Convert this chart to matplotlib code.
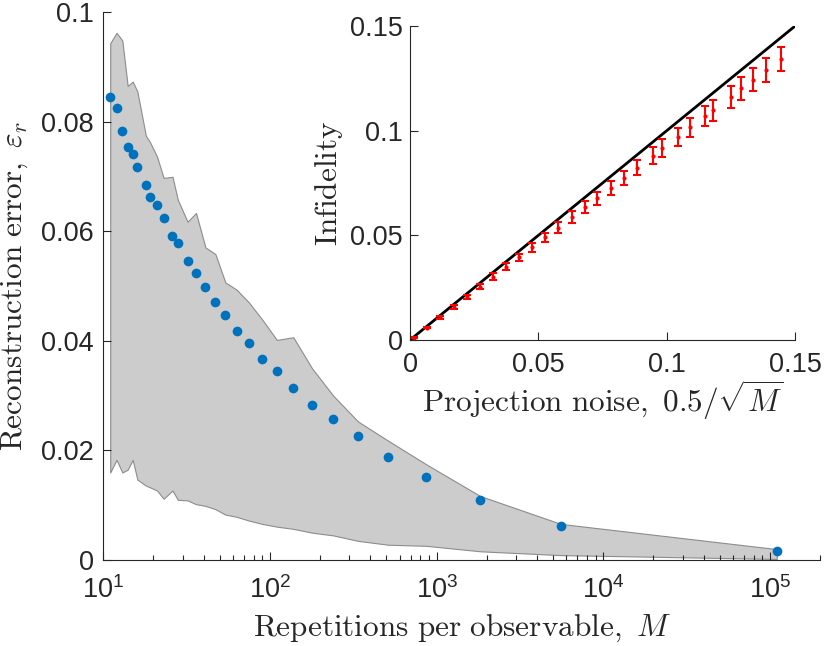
import numpy as np
import matplotlib
matplotlib.use("Agg")
import matplotlib.pyplot as plt
from matplotlib.ticker import FuncFormatter, LogLocator

plt.rcParams['font.family'] = ['Liberation Sans', 'DejaVu Sans']
plt.rcParams['mathtext.fontset'] = 'cm'

# repetitions per observable and reconstruction error (main panel)
M = [11, 12, 13, 14, 15, 16, 18, 19, 21, 23, 26, 28, 32, 36, 41, 47, 54, 63,
     75, 90, 110, 138, 179, 240, 338, 512, 865, 1826, 5569, 110000]
err_mean = [0.0844, 0.0825, 0.0783, 0.0754, 0.0741, 0.0717, 0.0684, 0.0662,
            0.0648, 0.0623, 0.0591, 0.0579, 0.0546, 0.0524, 0.0498, 0.0470,
            0.0447, 0.0418, 0.0395, 0.0367, 0.0344, 0.0313, 0.0282, 0.0257,
            0.0225, 0.0187, 0.0151, 0.0109, 0.0062, 0.0015]
err_hi = [0.0943, 0.0962, 0.0948, 0.0865, 0.0873, 0.0855, 0.0774, 0.0763,
          0.0736, 0.0697, 0.0699, 0.0657, 0.0617, 0.0633, 0.0570, 0.0558,
          0.0506, 0.0493, 0.0469, 0.0438, 0.0401, 0.0406, 0.0349, 0.0299,
          0.0252, 0.0217, 0.0174, 0.0116, 0.0065, 0.0019]
err_lo = [0.0159, 0.0182, 0.0159, 0.0164, 0.0182, 0.0146, 0.0135, 0.0132,
          0.0126, 0.0111, 0.0126, 0.0109, 0.0108, 0.0101, 0.0098, 0.0092,
          0.0082, 0.0078, 0.0071, 0.0065, 0.0060, 0.0056, 0.0049, 0.0044,
          0.0034, 0.0027, 0.0025, 0.0015, 0.0008, 0.0001]

# inset: infidelity vs projection noise (first point lies outside the axes)
infid = [0.1400, 0.1342, 0.1291, 0.1244, 0.1202, 0.1162, 0.1097, 0.1068,
         0.1016, 0.0971, 0.0916, 0.0881, 0.0823, 0.0775, 0.0726, 0.0678,
         0.0634, 0.0588, 0.0537, 0.0490, 0.0443, 0.0395, 0.0349, 0.0303,
         0.0255, 0.0205, 0.0158, 0.0108, 0.0059, 0.0011]
infid_err = [0.0060, 0.0058, 0.0057, 0.0056, 0.0054, 0.0052, 0.0050, 0.0048,
             0.0045, 0.0043, 0.0042, 0.0040, 0.0037, 0.0034, 0.0033, 0.0031,
             0.0028, 0.0027, 0.0025, 0.0022, 0.0021, 0.0018, 0.0017, 0.0015,
             0.0013, 0.0010, 0.0008, 0.0006, 0.0004, 0.0002]
line_x = [0, 0.15]

axcol = '#262626'
noise = 0.5 / np.sqrt(np.array(M, dtype=float))
keep = noise <= 0.15

fig = plt.figure(figsize=(8.3, 6.46), dpi=100)
ax = fig.add_axes([0.1245, 0.1339, 0.8635, 0.8475])
ax.fill_between(M, err_lo, err_hi, facecolor='#cccccc', edgecolor='#8c8c8c',
                linewidth=0.8)
ax.plot(M, err_mean, 'o', color='#0072BD', ms=7, mec='none')
ax.set_xscale('log')
ax.set_xlim(10, 2e5)
ax.set_ylim(0, 0.1)
ax.set_yticks([0, 0.02, 0.04, 0.06, 0.08, 0.1])
ax.yaxis.set_major_formatter(FuncFormatter(lambda v, p: '%g' % v))
ax.xaxis.set_major_locator(LogLocator(base=10, numticks=10))
ax.xaxis.set_minor_locator(LogLocator(base=10, subs=np.arange(2, 10), numticks=20))
ax.set_xlabel(r'$\mathrm{Repetitions\ per\ observable,}\ M$', fontsize=22.5,
              color=axcol, labelpad=6)
ax.set_ylabel(r'$\mathrm{Reconstruction\ error,}\ \varepsilon_r$', fontsize=22.5,
              color=axcol, labelpad=8)

ins = fig.add_axes([0.494, 0.4737, 0.464, 0.4861])
ins.plot(line_x, line_x, color='black', lw=2)
ins.errorbar(noise[keep], np.array(infid)[keep], yerr=np.array(infid_err)[keep],
             fmt='.', color='red', ms=4, elinewidth=1.5, capsize=3, capthick=1.5)
ins.set_xlim(0, 0.15)
ins.set_ylim(0, 0.15)
ins.set_xticks([0, 0.05, 0.1, 0.15])
ins.set_yticks([0, 0.05, 0.1, 0.15])
for a in (ins.xaxis, ins.yaxis):
    a.set_major_formatter(FuncFormatter(lambda v, p: '%g' % v))
ins.set_xlabel(r'$\mathrm{Projection\ noise,}\ 0.5/\sqrt{M}$', fontsize=22.5,
               color=axcol, labelpad=0)
ins.set_ylabel(r'$\mathrm{Infidelity}$', fontsize=22.5, color=axcol, labelpad=4)

for a in (ax, ins):
    for s in ('top', 'right'):
        a.spines[s].set_visible(False)
    for s in ('left', 'bottom'):
        a.spines[s].set_color(axcol)
        a.spines[s].set_linewidth(0.8)
    a.tick_params(which='both', direction='in', colors=axcol, labelsize=19.5,
                  width=0.8)
    a.tick_params(which='major', length=6)
    a.tick_params(which='minor', length=3.5)
    a.tick_params(axis='x', pad=9)
ax.tick_params(axis='x', pad=12)
ax.tick_params(axis='y', pad=7)
ins.tick_params(axis='y', pad=5)

fig.savefig('out.png', dpi=100)
